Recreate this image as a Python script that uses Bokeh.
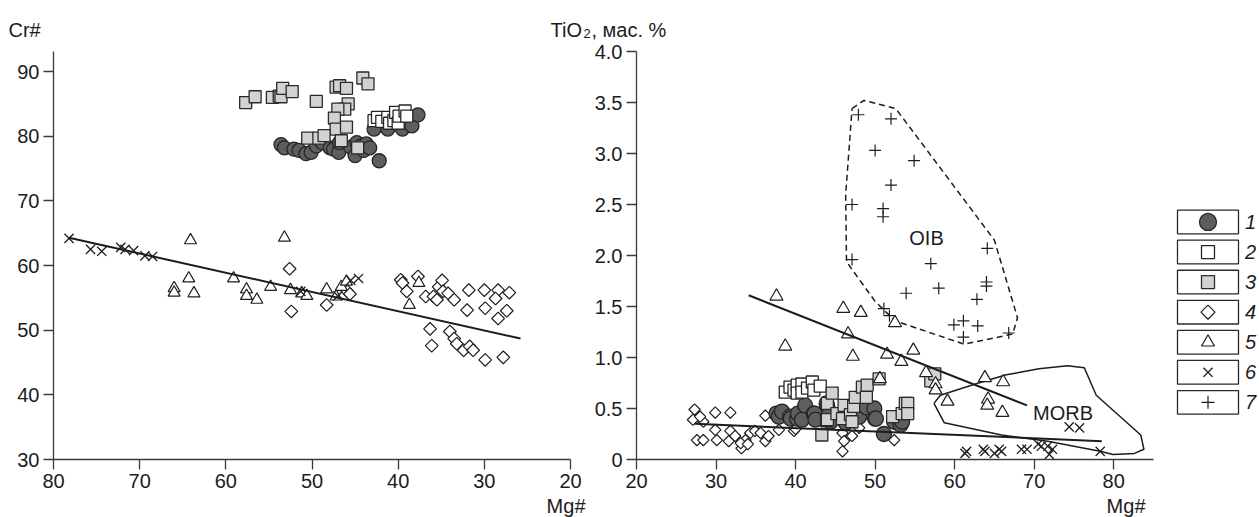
import math
from bokeh.plotting import figure
from bokeh.models import Range1d, Label, FixedTicker, CustomJSTickFormatter
from bokeh.layouts import row, column
from bokeh.embed import file_html
from bokeh.resources import INLINE
from bokeh.core.properties import value

# ---------------- DATA: left panel (Mg# vs Cr#) ----------------
L1_mg = [53.6, 53.2, 52.1, 51.5, 50.7, 50.1, 49.5, 48.8, 47.9, 47.5, 46.9, 46.8, 45.5, 45.0, 44.8, 44.3, 44.0, 43.7, 43.3, 42.2, 42.8, 41.2, 40.1, 39.5, 38.4, 37.7]
L1_cr = [78.7, 78.2, 78.0, 77.8, 77.3, 77.5, 78.5, 79.0, 78.2, 78.0, 77.5, 79.0, 78.3, 77.0, 79.0, 78.5, 77.8, 78.8, 78.2, 76.2, 81.1, 81.1, 82.4, 81.1, 81.6, 83.3]
L2_mg = [42.8, 42.4, 41.9, 41.2, 41.0, 40.5, 40.3, 40.0, 39.9, 39.2, 39.0]
L2_cr = [82.4, 82.9, 82.3, 82.9, 82.0, 82.4, 83.7, 82.0, 83.1, 83.9, 83.1]
L3_mg = [57.7, 56.6, 54.6, 53.8, 53.6, 53.4, 52.3, 49.5, 47.2, 46.8, 46.0, 44.1, 43.5, 45.8, 46.2, 47.0, 47.4, 47.2, 46.0, 50.5, 49.2, 48.6, 46.6, 44.7]
L3_cr = [85.2, 86.1, 86.0, 86.2, 86.1, 87.4, 86.9, 85.4, 87.6, 87.8, 87.4, 89.0, 88.1, 85.0, 84.2, 84.2, 82.8, 81.1, 81.4, 79.7, 79.7, 80.1, 79.3, 78.2]
L4_mg = [52.6, 52.4, 48.3, 45.9, 45.6, 39.7, 39.5, 39.0, 37.7, 36.8, 35.9, 35.5, 35.3, 34.9, 34.8, 34.2, 33.5, 31.8, 32.0, 30.0, 29.9, 28.4, 28.7, 27.1, 28.4, 27.4, 36.3, 36.1, 34.0, 33.5, 33.2, 32.4, 31.7, 31.3, 29.9, 27.8]
L4_cr = [59.5, 52.9, 53.9, 56.0, 55.6, 57.8, 57.3, 56.0, 58.3, 55.2, 55.2, 54.7, 56.7, 57.7, 56.0, 55.7, 54.7, 56.2, 53.1, 56.2, 53.4, 56.2, 54.9, 55.8, 51.8, 53.0, 50.2, 47.6, 49.8, 48.7, 47.9, 46.9, 47.5, 46.9, 45.4, 45.8]
L5_mg = [64.1, 53.2, 66.0, 66.0, 64.3, 63.7, 59.1, 57.6, 57.6, 56.4, 54.8, 52.5, 51.2, 50.6, 48.3, 47.2, 46.6, 46.0, 38.7, 37.6]
L5_cr = [63.9, 64.3, 56.5, 55.8, 58.0, 55.7, 58.0, 56.3, 55.3, 54.7, 56.7, 56.2, 55.7, 55.3, 56.3, 55.2, 56.7, 57.5, 53.9, 57.3]
L6_mg = [78.2, 75.7, 74.4, 72.2, 71.7, 70.7, 69.4, 68.5, 51.3, 47.0, 45.5, 44.6]
L6_cr = [64.2, 62.5, 62.2, 62.8, 62.5, 62.3, 61.5, 61.4, 56.0, 55.3, 57.7, 58.0]
L_trend_mg = [78.2, 25.8]
L_trend_cr = [64.3, 48.7]

L_xticks = [80, 70, 60, 50, 40, 30, 20]
L_xlabels = ["80", "70", "60", "50", "40", "30", "20"]
L_yticks = [30, 40, 50, 60, 70, 80, 90]
L_ylabels = ["30", "40", "50", "60", "70", "80", "90"]

# ---------------- DATA: right panel (Mg# vs TiO2) ----------------
R1_mg = [37.6, 37.9, 38.3, 39.3, 39.4, 40.2, 40.3, 40.8, 41.2, 42.3, 42.4, 42.5, 43.9, 44.0, 44.2, 44.4, 46.3, 46.4, 46.9, 48.0, 48.9, 49.9, 50.0, 50.1, 51.1, 52.4, 53.2, 53.4]
R1_ti = [0.45, 0.42, 0.47, 0.42, 0.40, 0.40, 0.45, 0.39, 0.53, 0.45, 0.45, 0.39, 0.55, 0.52, 0.44, 0.37, 0.36, 0.45, 0.50, 0.42, 0.51, 0.50, 0.40, 0.40, 0.25, 0.37, 0.34, 0.37]
R2_mg = [38.7, 39.3, 39.8, 40.2, 40.2, 40.8, 40.8, 41.5, 42.1, 42.3, 43.1]
R2_ti = [0.66, 0.71, 0.68, 0.73, 0.65, 0.74, 0.66, 0.70, 0.76, 0.68, 0.72]
R3_mg = [43.3, 43.9, 44.0, 44.0, 44.6, 45.2, 45.9, 46.1, 46.9, 47.1, 47.3, 47.5, 48.4, 48.9, 49.0, 50.5, 52.2, 53.4, 53.8, 54.1, 54.1, 57.0, 57.5]
R3_ti = [0.24, 0.38, 0.55, 0.39, 0.65, 0.45, 0.40, 0.53, 0.44, 0.37, 0.52, 0.61, 0.71, 0.61, 0.73, 0.79, 0.42, 0.45, 0.55, 0.55, 0.45, 0.77, 0.84]
R4_mg = [27.3, 27.1, 28.4, 29.9, 31.8, 36.2, 27.6, 28.4, 29.9, 30.1, 31.6, 31.8, 32.4, 33.2, 33.7, 34.3, 34.9, 35.6, 36.2, 36.6, 37.9, 39.8, 33.1, 34.0, 45.9, 46.1, 45.9, 47.1, 48.0, 52.6, 52.4, 28.0, 40.0]
R4_ti = [0.49, 0.39, 0.37, 0.46, 0.46, 0.43, 0.19, 0.19, 0.29, 0.19, 0.18, 0.28, 0.23, 0.11, 0.19, 0.26, 0.28, 0.26, 0.18, 0.23, 0.29, 0.28, 0.16, 0.15, 0.26, 0.18, 0.08, 0.23, 0.31, 0.34, 0.19, 0.42, 0.30]
R5_mg = [37.6, 38.7, 46.0, 48.2, 46.6, 47.2, 52.5, 51.5, 53.3, 54.8, 50.6, 56.4, 57.6, 57.6, 59.1, 63.8, 66.1, 64.2, 64.1, 66.0]
R5_ti = [1.60, 1.11, 1.48, 1.44, 1.23, 1.01, 1.34, 1.03, 0.96, 1.07, 0.79, 0.85, 0.74, 0.68, 0.57, 0.80, 0.76, 0.59, 0.53, 0.46]
R6_mg = [61.5, 61.3, 63.6, 63.8, 65.0, 65.6, 65.9, 68.4, 69.1, 70.5, 70.9, 71.7, 71.9, 72.3, 74.4, 75.7, 78.3]
R6_ti = [0.08, 0.06, 0.10, 0.08, 0.06, 0.10, 0.08, 0.10, 0.10, 0.15, 0.13, 0.13, 0.05, 0.10, 0.32, 0.31, 0.08]
R7_mg = [47.9, 52.0, 50.0, 54.9, 52.0, 47.1, 51.0, 51.0, 64.1, 47.1, 57.0, 64.0, 64.0, 53.9, 58.0, 62.8, 51.1, 51.8, 61.1, 59.9, 62.9, 61.1, 66.8]
R7_ti = [3.38, 3.34, 3.03, 2.93, 2.69, 2.50, 2.46, 2.38, 2.07, 1.96, 1.92, 1.74, 1.70, 1.63, 1.68, 1.57, 1.48, 1.41, 1.36, 1.32, 1.31, 1.20, 1.24]
R_trend5_mg = [34.1, 69.1]
R_trend5_ti = [1.61, 0.53]
R_trendlow_mg = [27.3, 78.5]
R_trendlow_ti = [0.35, 0.18]
OIB_mg = [47.1, 48.6, 52.6, 65.0, 67.9, 67.3, 61.2, 52.5, 50.0, 46.4, 46.3, 47.1]
OIB_ti = [3.44, 3.52, 3.44, 2.15, 1.39, 1.23, 1.13, 1.36, 1.55, 1.94, 2.60, 3.44]
MORB_mg = [57.4, 58.2, 63.0, 66.5, 70.6, 74.2, 76.3, 77.8, 83.4, 83.8, 82.6, 79.9, 78.3, 71.7, 65.9, 58.7, 57.4]
MORB_ti = [0.55, 0.63, 0.75, 0.83, 0.89, 0.92, 0.90, 0.63, 0.24, 0.10, 0.06, 0.05, 0.08, 0.18, 0.24, 0.36, 0.55]

R_xticks = [20, 30, 40, 50, 60, 70, 80]
R_xlabels = ["20", "30", "40", "50", "60", "70", "80"]
R_yticks = [0, 0.5, 1.0, 1.5, 2.0, 2.5, 3.0, 3.5, 4.0]
R_ylabels = ["0", "0.5", "1.0", "1.5", "2.0", "2.5", "3.0", "3.5", "4.0"]

legend_labels = ["1", "2", "3", "4", "5", "6", "7"]

# ---------------- STYLE ----------------
FONT = "Liberation Sans"
INK = "#1c1c1c"
AXIS = "#3a3a3a"
TICK_FS = "20px"

STY = {
    1: dict(marker="circle", fill_color="#5d5e60", line_color="#252525", line_width=1.3),
    2: dict(marker="square", fill_color="white", line_color="#252525", line_width=1.3),
    3: dict(marker="square", fill_color="#d2d2d2", line_color="#2a2a2a", line_width=1.3),
    4: dict(marker="square", angle=math.pi / 4, fill_color="white", line_color="#1e1e1e", line_width=1.2),
    5: dict(marker="triangle", fill_color="white", line_color="#1e1e1e", line_width=1.2),
    6: dict(marker="x", line_color="#1e1e1e", line_width=1.3),
    7: dict(marker="cross", line_color="#1e1e1e", line_width=1.2),
}


def style_axes(p, xt, xl, yt, yl):
    p.xgrid.visible = False
    p.ygrid.visible = False
    p.outline_line_color = None
    for ax, t, l, so in ((p.xaxis[0], xt, xl, 4), (p.yaxis[0], yt, yl, 4)):
        ax.ticker = FixedTicker(ticks=t, minor_ticks=[])
        ax.formatter = CustomJSTickFormatter(
            args=dict(tv=t, tl=l),
            code="for (let i = 0; i < tv.length; i++) { if (Math.abs(tv[i] - tick) < 1e-9) return tl[i]; } return '';")
        ax.axis_line_color = AXIS
        ax.axis_line_width = 1.3
        ax.major_tick_line_color = AXIS
        ax.major_tick_line_width = 1.3
        ax.major_tick_in = 0
        ax.major_tick_out = 10
        ax.minor_tick_line_color = None
        ax.major_label_standoff = so
        ax.major_label_text_font = FONT
        ax.major_label_text_font_size = TICK_FS
        ax.major_label_text_color = INK


def lab(p, x, y, text, size="20px", align="left", baseline="alphabetic", style="normal"):
    p.add_layout(Label(x=x, y=y, text=text, text_font=FONT, text_font_size=size,
                       text_align=align, text_baseline=baseline, text_color=INK,
                       text_font_style=style))


# ---------------- LEFT PANEL ----------------
pL = figure(width=600, height=517, x_range=Range1d(80, 20), y_range=Range1d(30, 93.1),
            output_backend="svg", toolbar_location=None,
            min_border_left=53, min_border_right=30, min_border_top=51, min_border_bottom=58)
style_axes(pL, L_xticks, L_xlabels, L_yticks, L_ylabels)
pL.scatter(L1_mg, L1_cr, size=14, **STY[1])
pL.scatter(L3_mg, L3_cr, size=12, **STY[3])
pL.scatter(L2_mg, L2_cr, size=12, **STY[2])
pL.scatter(L4_mg, L4_cr, size=9, **STY[4])
pL.scatter(L5_mg, L5_cr, size=12, **STY[5])
pL.scatter(L6_mg, L6_cr, size=13, **STY[6])
pL.line(L_trend_mg, L_trend_cr, line_color=INK, line_width=2)

# ---------------- RIGHT PANEL ----------------
pR = figure(width=620, height=517, x_range=Range1d(20, 85), y_range=Range1d(0, 4.0),
            output_backend="svg", toolbar_location=None,
            min_border_left=96, min_border_right=7, min_border_top=50, min_border_bottom=58,
            background_fill_color=None, border_fill_color=None)
pR.margin = (0, 0, 0, -60)
style_axes(pR, R_xticks, R_xlabels, R_yticks, R_ylabels)
pR.line(OIB_mg, OIB_ti, line_color=INK, line_width=1.5, line_dash="6 4")
pR.line(MORB_mg, MORB_ti, line_color=INK, line_width=1.5)
pR.scatter(R4_mg, R4_ti, size=8, **STY[4])
pR.scatter(R1_mg, R1_ti, size=15, **STY[1])
pR.scatter(R2_mg, R2_ti, size=12, **STY[2])
pR.scatter(R3_mg, R3_ti, size=12, **STY[3])
pR.scatter(R5_mg, R5_ti, size=13, **STY[5])
pR.scatter(R6_mg, R6_ti, size=13, **STY[6])
pR.scatter(R7_mg, R7_ti, size=12, **STY[7])
pR.line(R_trend5_mg, R_trend5_ti, line_color=INK, line_width=2)
pR.line(R_trendlow_mg, R_trendlow_ti, line_color=INK, line_width=2)
lab(pR, 56.46, 2.174, "OIB", align="center", baseline="middle")
lab(pR, 73.62, 0.457, "MORB", align="center", baseline="middle")

# ---------------- LEGEND ----------------
pG = figure(width=99, height=517, x_range=Range1d(0, 99), y_range=Range1d(517, 0),
            output_backend="svg", toolbar_location=None, min_border=0,
            x_axis_type=None, y_axis_type=None, title_location=None)
pG.grid.visible = False
pG.outline_line_color = None
box_x, box_w, box_top, box_h, step, num_x = 47.5, 61, 201, 30, 38.1, 90
leg_sizes = [17, 13, 13, 10, 13, 13, 13]
ys = [box_top + box_h / 2 + i * step for i in range(len(legend_labels))]
pG.rect([box_x] * len(ys), ys, width=box_w, height=box_h, fill_color="white",
        line_color="#2a2a2a", line_width=1.3)
for i, yc in enumerate(ys):
    pG.scatter([box_x], [yc], size=leg_sizes[i], **STY[i + 1])
    lab(pG, num_x, yc, legend_labels[i], align="center", baseline="middle", style="italic")

# ---------------- TITLE OVERLAY (axis titles, page pixel frame) ----------------
pT = figure(width=1259, height=517, x_range=Range1d(0, 1259), y_range=Range1d(517, 0),
            output_backend="svg", toolbar_location=None, min_border=0,
            x_axis_type=None, y_axis_type=None, title_location=None,
            background_fill_color=None, border_fill_color=None)
pT.grid.visible = False
pT.outline_line_color = None
pT.margin = (-517, 0, 0, 0)
lab(pT, 8, 29, "Cr#")
lab(pT, 585, 505, "Mg#", align="right")
lab(pT, 550, 29, "TiO")
lab(pT, 583, 33, "2", size="13px")
lab(pT, 591, 29, ", мас. %")
lab(pT, 1145, 505, "Mg#", align="right")

layout = column(row(pL, pR, pG), pT)
open("out.html", "w").write(file_html(layout, INLINE))
